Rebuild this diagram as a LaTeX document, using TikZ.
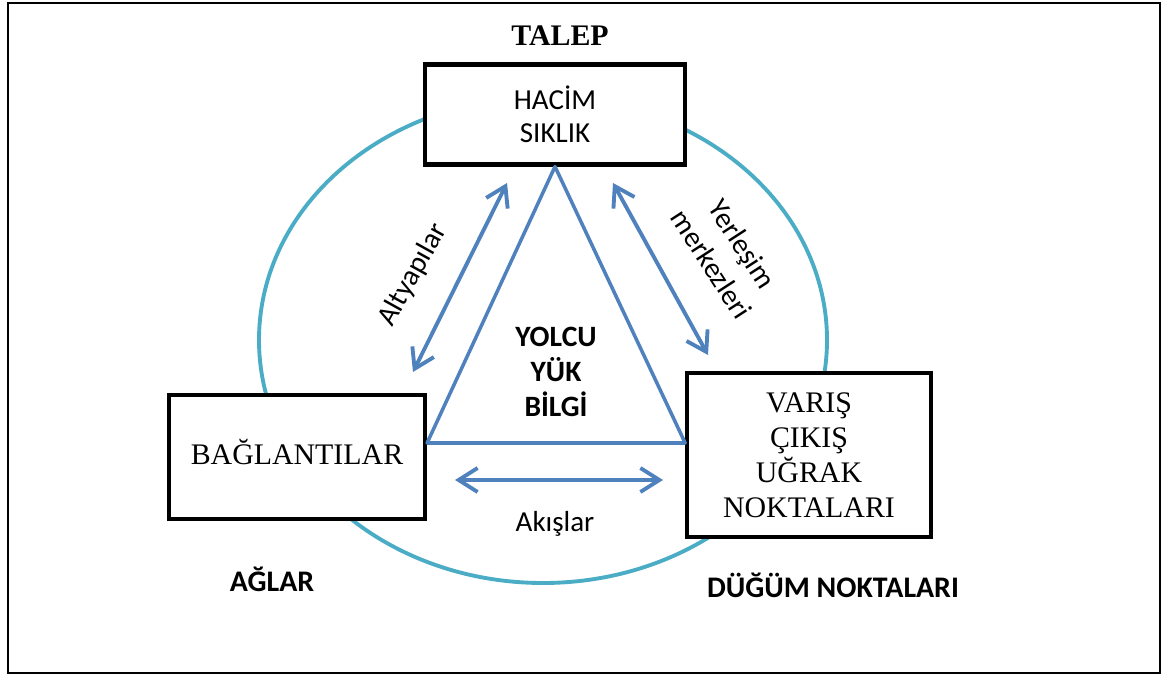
\documentclass[tikz,border=0pt]{standalone}
\usepackage{fontspec}
\setmainfont{Liberation Serif}
\newfontfamily\calibri{Carlito}
\usepackage{tikz}
\usetikzlibrary{positioning, calc, arrows.meta}
\definecolor{ring}{RGB}{75, 172, 198}
\definecolor{flow}{RGB}{79, 129, 189}

\begin{document}
\begin{tikzpicture}[x=0.02cm, y=-0.02cm, every node/.style={align=center, inner sep=1pt}]
    \tikzstyle{block} = [draw, rectangle, fill=white, line width=2.4pt]
    \tikzstyle{arrow} = [draw=flow, line width=2.2pt, {Straight Barb[length=3.8mm, width=4.8mm]}-{Straight Barb[length=3.8mm, width=4.8mm]}]
    \tikzstyle{serif} = [font=\fontsize{17}{20}\selectfont]
    \tikzstyle{sans} = [font=\calibri\fontsize{16.5}{18.5}\selectfont]
    \tikzstyle{heading} = [font=\calibri\bfseries\fontsize{17}{20}\selectfont]

    \useasboundingbox (0,0) rectangle (1168,675);
    \draw [line width=1.2pt] (8,3) rectangle (1160,673);

    % Outer ring
    \draw [draw=ring, line width=2.2pt] (543,340) ellipse [x radius=284, y radius=243];

    % Boxes
    \node (demand) [block, sans, minimum width=5.2cm, minimum height=2cm] at (555,114.5) {HAC\.IM\\SIKLIK};
    \node (links) [block, serif, minimum width=5.12cm, minimum height=2.49cm] at (297,457) {\raisebox{0.2cm}{BAĞLANTILAR}};
    \node (points) [block, serif, minimum width=4.87cm, minimum height=3.29cm] at (809,455) {VARIŞ\\ÇIKIŞ\\UĞRAK\\NOKTALARI};

    % Headings
    \node (talep) [font=\bfseries\fontsize{17}{20}\selectfont] at (560,36) {TALEP};
    \node (aglar) [heading] at (272,579) {AĞLAR};
    \node (dugum) [heading] at (833,585) {DÜĞÜM NOKTALARI};

    % Triangle
    \coordinate (tl) at ($(links.east)+(0,-14)$);
    \coordinate (tr) at ($(points.west)+(0,-12)$);
    \draw [draw=flow, line width=2pt, line join=round] (demand.south) -- (tl) -- (tr) -- cycle;
    \node (cargo) [font=\calibri\bfseries\fontsize{16.8}{20}\selectfont] at (556,372) {YOLCU\\YÜK\\B\.ILG\.I};

    % Arrows
    \coordinate (a1) at (507,183);
    \coordinate (a2) at (413,372);
    \coordinate (b1) at (613,183);
    \coordinate (b2) at (708,355);
    \coordinate (c1) at (455,480);
    \coordinate (c2) at (663,480);
    \draw [arrow] (a1) -- (a2);
    \draw [arrow] (b1) -- (b2);
    \draw [arrow] (c1) -- (c2);

    % Arrow labels
    \node (infra) [sans, rotate=61] at (413,275) {Altyapılar};
    \node (settle) [sans, rotate=-57, font=\calibri\fontsize{16.5}{21}\selectfont] at (727,254) {Yerleşim\\merkezleri};
    \node (flows) [sans] at (555,524) {Akışlar};
\end{tikzpicture}
\end{document}
